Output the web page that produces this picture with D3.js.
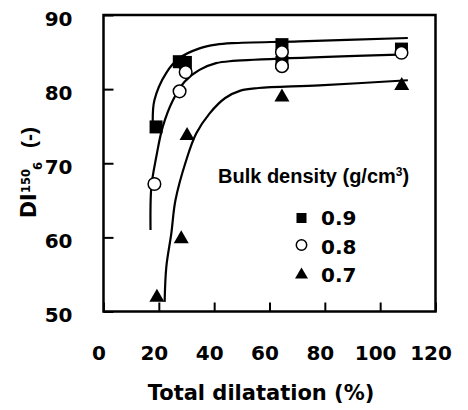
<!DOCTYPE html>
<html><head><meta charset="utf-8">
<script src="https://cdn.jsdelivr.net/npm/d3@7"></script>
<style>body{margin:0;background:#fff}</style>
</head><body><svg id="c" width="468" height="410"></svg>
<script>
// ---- data ----
const seriesNames = ["0.9", "0.8", "0.7"];
const xTicks = [0, 20, 40, 60, 80, 100, 120];
const yTicks = [50, 60, 70, 80, 90];

// measured points
const sqX = [19.0, 27.4, 29.6, 64.5, 64.5, 107.7];
const sqY = [74.9, 83.7, 83.6, 86.0, 83.6, 85.4];
const ciX = [18.4, 27.5, 29.7, 64.5, 64.5, 107.7];
const ciY = [67.2, 79.7, 82.3, 85.0, 83.1, 84.9];
const trX = [19.3, 28.1, 30.2, 64.5, 107.8];
const trY = [52.2, 60.1, 74.0, 79.2, 80.75];

// fitted curves
const fit09X = [17.8, 18.4, 22.7, 27.5, 34.7, 40.7, 46.6, 70.8, 110.0];
const fit09Y = [75.6, 78.5, 82.2, 84.2, 85.5, 86.0, 86.2, 86.45, 86.9];
const fit08X = [17.0, 17.3, 19.1, 21.4, 25.1, 29.3, 34.7, 40.7, 46.7, 110.0];
const fit08Y = [61.0, 66.8, 70.9, 74.9, 78.5, 81.0, 82.6, 83.5, 83.8, 84.7];
const fit07X = [22.1, 22.7, 24.5, 26.0, 29.9, 33.5, 38.3, 44.0, 49.5, 56.0, 78.0, 110.0];
const fit07Y = [51.3, 56.0, 60.5, 65.0, 70.4, 74.0, 76.7, 78.8, 79.8, 80.15, 80.5, 81.2];

// ---- drawing ----
const svg = d3.select("#c");
svg.append("rect").attr("width", 468).attr("height", 410).attr("fill", "#fff");

const x = d3.scaleLinear().domain([0, 120]).range([103.5, 435.5]);
const y = d3.scaleLinear().domain([50, 90]).range([311.5, 15]);
const numFont = "'DejaVu Sans', sans-serif";

// axes (inward ticks)
const gx = svg.append("g").attr("transform", `translate(0,${y(50)})`)
  .call(d3.axisBottom(x).tickValues(xTicks).tickSizeInner(-9).tickSizeOuter(0));
const gy = svg.append("g").attr("transform", `translate(${x(0)},0)`)
  .call(d3.axisLeft(y).tickValues(yTicks).tickSizeInner(-10).tickSizeOuter(0).tickPadding(31));
[gx, gy].forEach(g => {
  g.select(".domain").remove();
  g.selectAll(".tick line").attr("stroke", "#000").attr("stroke-width", 2);
  g.selectAll(".tick text").attr("fill", "#000")
    .style("font-family", numFont).style("font-weight", "bold").style("font-size", "20px");
});
gx.selectAll(".tick text").attr("y", 48.5).attr("dy", 0).attr("dx", -5);
gy.selectAll(".tick text").attr("dy", 10);

// frame
svg.append("rect").attr("x", x(0)).attr("y", y(90))
  .attr("width", x(120) - x(0)).attr("height", y(50) - y(90))
  .attr("fill", "none").attr("stroke", "#000").attr("stroke-width", 2.5);

// fitted curves
const line = d3.line().x(d => x(d[0])).y(d => y(d[1])).curve(d3.curveCatmullRom.alpha(0.5));
[[fit09X, fit09Y], [fit08X, fit08Y], [fit07X, fit07Y]].forEach(([xs, ys]) => {
  svg.append("path").datum(xs.map((v, i) => [v, ys[i]]))
    .attr("d", line).attr("fill", "none").attr("stroke", "#000").attr("stroke-width", 2.2);
});

// markers
function square(g, cx, cy, s) {
  g.append("rect").attr("x", cx - s / 2).attr("y", cy - s / 2).attr("width", s).attr("height", s).attr("fill", "#000");
}
function circle(g, cx, cy, r) {
  g.append("circle").attr("cx", cx).attr("cy", cy).attr("r", r)
    .attr("fill", "#fff").attr("stroke", "#000").attr("stroke-width", 1.5);
}
function triangle(g, cx, cy, w, h) {
  g.append("path").attr("d", `M${cx - w / 2},${cy + h / 2}L${cx + w / 2},${cy + h / 2}L${cx},${cy - h / 2}Z`).attr("fill", "#000");
}
const gm = svg.append("g");
sqX.forEach((v, i) => square(gm, x(v), y(sqY[i]), 13));
ciX.forEach((v, i) => circle(gm, x(v), y(ciY[i]), 6.3));
trX.forEach((v, i) => triangle(gm, x(v), y(trY[i]), 15, 13));

// legend
svg.append("text").attr("x", 218).attr("y", 183)
  .style("font-family", "'Liberation Sans', Arial, sans-serif").style("font-weight", "bold").style("font-size", "20px")
  .text("Bulk density (g/cm")
  .append("tspan").attr("dy", -7).style("font-size", "12px").text("3")
  .select(function () { return this.parentNode; })
  .append("tspan").attr("dy", 7).text(")");

const legY = [218, 245, 273];
const legTextY = [225, 254, 282];
seriesNames.forEach((n, i) => {
  if (i === 0) square(svg, 301.5, legY[i], 10);
  if (i === 1) circle(svg, 301.5, legY[i], 5.2);
  if (i === 2) triangle(svg, 301.5, legY[i], 13, 11);
  svg.append("text").attr("x", 321).attr("y", legTextY[i])
    .style("font-family", numFont).style("font-weight", "bold").style("font-size", "20px").text(n);
});

// axis titles
svg.append("text").attr("x", 261).attr("y", 400).attr("text-anchor", "middle")
  .style("font-family", numFont).style("font-weight", "bold").style("font-size", "21px")
  .text("Total dilatation (%)");

const yt = svg.append("g").attr("transform", "translate(36,218) rotate(-90)")
  .style("font-family", numFont).style("font-weight", "bold");
yt.append("text").attr("x", 0).attr("y", 0).style("font-size", "20.5px").text("DI");
yt.append("text").attr("x", 25).attr("y", -6.5).style("font-size", "11.5px").text("150");
yt.append("text").attr("x", 48).attr("y", 5.5).style("font-size", "11.5px").text("6");
yt.append("text").attr("x", 70).attr("y", 0)
  .style("font-family", "'Liberation Sans', Arial, sans-serif").style("font-size", "21px").text("(-)");
</script>
</body></html>
